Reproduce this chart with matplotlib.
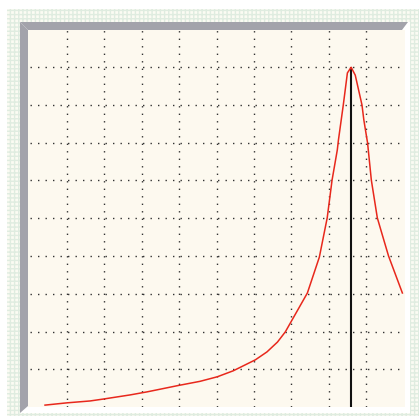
import matplotlib
matplotlib.use("Agg")
import matplotlib.pyplot as plt
from matplotlib.patches import Polygon, Rectangle

# Curve data (grid units, 10x10 grid)
curve_x = [0.415, 1.00, 1.62, 1.97, 2.69, 3.14, 3.98, 4.56, 5.02, 5.45, 6.04, 6.35,
           6.63, 6.84, 7.43, 7.75, 7.96, 8.09, 8.23, 8.26,
           8.39, 8.50, 8.60, 8.71, 8.89, 8.94, 9.04, 9.14, 9.30, 9.43, 9.60,
           9.97]
curve_y = [0.05, 0.11, 0.16, 0.21, 0.32, 0.40, 0.57, 0.68, 0.80, 0.96, 1.25, 1.46,
           1.72, 1.99, 3.02, 3.97, 5.01, 6.01, 6.81, 7.07,
           8.00, 8.85, 9.00, 8.79, 8.00, 7.60, 6.99, 6.01, 5.01, 4.57, 4.00,
           3.02]
peak_x = 8.60
peak_y = 9.00
grid_ticks = [1, 2, 3, 4, 5, 6, 7, 8, 9]

W, H = 419, 416
fig = plt.figure(figsize=(W / 100, H / 100), dpi=100)
fig.patch.set_facecolor("white")

def px(x, y):
    return (x / W, 1 - y / H)

# dotted background pattern
bg = Rectangle(px(7, 416), (W - 7) / W, (416 - 9) / H, transform=fig.transFigure,
               facecolor="#fbfbf3", edgecolor="#dfece0", hatch="++++", linewidth=0)
fig.patches.append(bg)
# white panel
panel = Rectangle(px(20, 413), (410 - 20) / W, (413 - 22) / H, transform=fig.transFigure,
                  facecolor="white", edgecolor="none")
fig.patches.append(panel)
# cream area
cream = Rectangle(px(28, 407), (405 - 28) / W, (407 - 30) / H, transform=fig.transFigure,
                  facecolor="#fdf9ef", edgecolor="none")
fig.patches.append(cream)
gray = "#a3a3ab"
top = Polygon([px(20, 22), px(408, 22), px(402, 30), px(28, 30)], closed=True,
              transform=fig.transFigure, facecolor=gray, edgecolor="none")
left = Polygon([px(20, 22), px(28, 30), px(28, 406), px(20, 413)], closed=True,
               transform=fig.transFigure, facecolor=gray, edgecolor="none")
fig.patches.append(top)
fig.patches.append(left)

x0, x1 = 29.5, 29.5 + 10 * 37.4
y0, y1 = 29.5, 29.5 + 10 * 37.75
ax = fig.add_axes([x0 / W, 1 - y1 / H, (x1 - x0) / W, (y1 - y0) / H])
ax.set_zorder(5)
ax.set_facecolor("none")
ax.set_xlim(0, 10)
ax.set_ylim(0, 10)
for s in ax.spines.values():
    s.set_visible(False)
ax.set_xticks([])
ax.set_yticks([])

for t in grid_ticks:
    ax.axvline(t, color="#333333", lw=1.0, ls=(0, (1, 4.4)))
    ax.axhline(t, color="#333333", lw=1.0, ls=(0, (1, 4.4)))

ax.vlines(peak_x, 0, peak_y, color="#111111", lw=1.5)
ax.plot(curve_x, curve_y, color="#e8281c", lw=1.1, solid_joinstyle="round")

fig.savefig("out.png", dpi=100, facecolor=fig.get_facecolor())
